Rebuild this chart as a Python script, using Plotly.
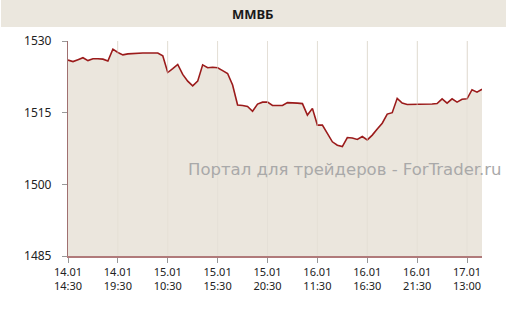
import plotly.graph_objects as go

values = [
    1526.0, 1525.7, 1526.1, 1526.5, 1525.9, 1526.3, 1526.3, 1526.2, 1525.8, 1528.3,
    1527.6, 1527.1, 1527.3, 1527.4, 1527.5, 1527.5, 1527.5, 1527.5, 1527.5, 1526.9,
    1523.4, 1524.2, 1525.1, 1523.0, 1521.6, 1520.6, 1521.6, 1525.0, 1524.4, 1524.5,
    1524.4, 1523.8, 1523.2, 1520.8, 1516.6, 1516.5, 1516.3, 1515.3, 1516.8, 1517.2,
    1517.2, 1516.5, 1516.5, 1516.5, 1517.1, 1517.1, 1517.0, 1516.9, 1514.5, 1515.9,
    1512.4, 1512.4, 1510.6, 1508.9, 1508.2, 1507.9, 1509.8, 1509.7, 1509.4, 1510.0,
    1509.3, 1510.3, 1511.6, 1512.8, 1514.7, 1515.0, 1518.0, 1517.0, 1516.7, 1516.7,
    1516.7, 1516.7, 1516.7, 1516.8, 1516.9, 1517.9, 1517.0, 1517.9, 1517.2, 1517.8,
    1517.9, 1519.8, 1519.3, 1519.9,
]
x_index = list(range(len(values)))

tick_positions = [0, 10, 20, 30, 40, 50, 60, 70, 80]
tick_labels = [
    "14.01<br>14:30", "14.01<br>19:30", "15.01<br>10:30", "15.01<br>15:30",
    "15.01<br>20:30", "16.01<br>11:30", "16.01<br>16:30", "16.01<br>21:30",
    "17.01<br>13:00",
]
y_ticks = [1485, 1500, 1515, 1530]

title_text = "ММВБ"
watermark = "Портал для трейдеров - ForTrader.ru"

fig = go.Figure()
fig.add_trace(go.Scatter(
    x=x_index, y=values, mode="lines",
    line=dict(color="#9b1b1b", width=1.6),
    fill="tozeroy", fillcolor="#ebe6dd",
    hoverinfo="skip",
))

W, H = 506, 318
L, R, T, B = 68, 24, 41, 62
pw, ph = W - L - R, H - T - B

def px_x(p):
    return (p - L) / pw

def px_y(p):
    return (H - B - p) / ph

fig.add_shape(type="rect", xref="paper", yref="paper",
              x0=px_x(1), x1=px_x(506), y0=px_y(27), y1=px_y(0),
              fillcolor="#ebe7de", line=dict(width=0), layer="below")

# faint vertical grid visible over the filled area
for tp in tick_positions[1:]:
    fig.add_shape(type="line", xref="x", yref="paper", x0=tp, x1=tp, y0=0, y1=1,
                  line=dict(color="rgba(225,220,210,0.6)", width=1), layer="above")

fig.add_annotation(text="<b>" + title_text + "</b>", xref="paper", yref="paper",
                   x=px_x(253), y=px_y(14), showarrow=False,
                   font=dict(family="Noto Sans", size=13, color="#1a1a1a"),
                   xanchor="center", yanchor="middle")

fig.add_annotation(text=watermark, xref="paper", yref="paper",
                   x=px_x(345), y=px_y(169), showarrow=False,
                   font=dict(family="DejaVu Sans", size=16.5, color="#a9a9a9"),
                   xanchor="center", yanchor="middle")

fig.update_layout(
    width=W, height=H,
    margin=dict(l=L, r=R, t=T, b=B, pad=0),
    paper_bgcolor="white", plot_bgcolor="white",
    showlegend=False,
    font=dict(family="Noto Sans", size=11, color="#222"),
)
fig.update_xaxes(
    range=[0, len(values) - 1],
    tickmode="array", tickvals=tick_positions, ticktext=tick_labels,
    showgrid=True, gridcolor="#e8e4dc", gridwidth=1,
    showline=True, linecolor="#b07a7a", linewidth=1.5,
    ticks="outside", ticklen=5, tickcolor="#999",
    tickfont=dict(size=11, color="#222"),
    zeroline=False, fixedrange=True,
)
fig.update_yaxes(
    range=[1485, 1530],
    tickmode="array", tickvals=y_ticks,
    showgrid=False,
    showline=True, linecolor="#a07070", linewidth=1.2,
    ticks="outside", ticklen=5, tickcolor="#999",
    ticklabelstandoff=8,
    tickfont=dict(size=12, color="#222"),
    zeroline=False, fixedrange=True,
)

fig.write_html("out.html")
